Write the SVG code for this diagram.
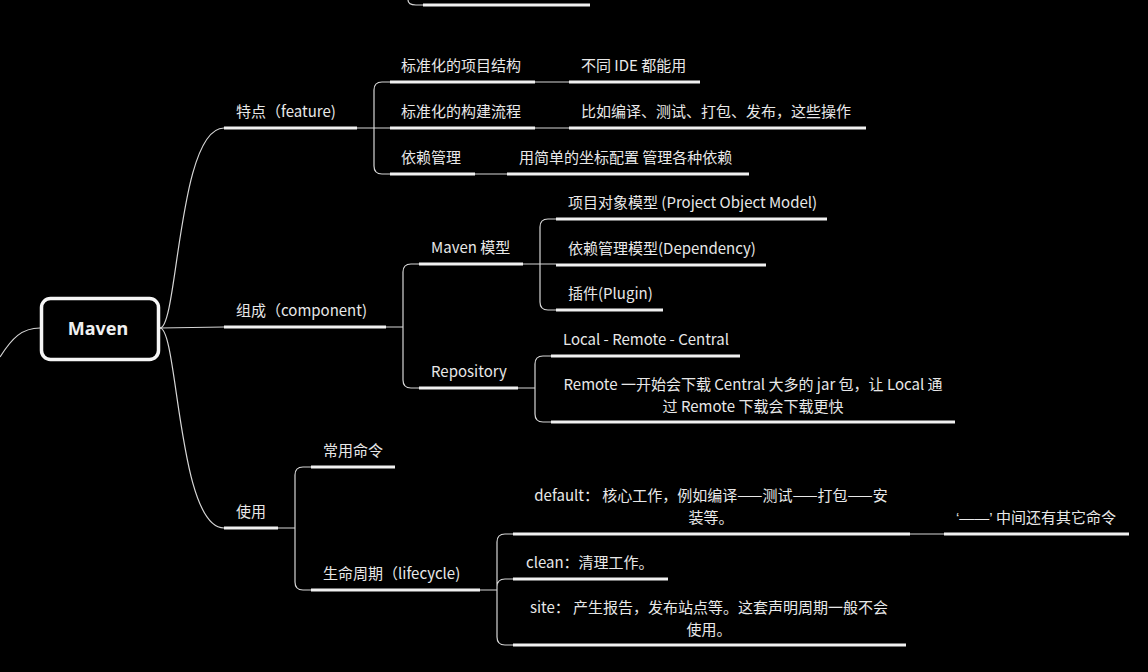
<svg xmlns="http://www.w3.org/2000/svg" width="1148" height="672" viewBox="0 0 1148 672">
<style>
.c{fill:none;stroke:#d6d6d6;stroke-width:1.2}
.u{stroke:#f0f0f0;stroke-width:3}
.t{font-family:"Noto Sans CJK SC","Noto Sans",sans-serif;font-size:15px;fill:#e8e8e8}
.m{text-anchor:middle}
</style>
<rect width="1148" height="672" fill="#000"/>
<g id="connectors">
<path class="c" d="M408,0 Q408,5 416,5 L423,5"/>
<path class="c" d="M0,357 C12,338 22,328 40,328"/>
<path class="c" d="M160,328 C178,328 178,128 224,128"/>
<path class="c" d="M160,328 L224,327"/>
<path class="c" d="M160,328 C178,328 178,528 224,528"/>
<path class="c" d="M357,128 L390,128 M390,82 L382,82 Q374,82 374,90 L374,166 Q374,174 382,174 L390,174"/>
<path class="c" d="M535,82 L569,82 M535,128 L569,128 M475,174 L507,174"/>
<path class="c" d="M386,327 L403,327 M419,264 L411,264 Q403,264 403,272 L403,380 Q403,388 411,388 L419,388"/>
<path class="c" d="M523,264 L556,264 M556,219 L548,219 Q540,219 540,227 L540,302 Q540,310 548,310 L556,310"/>
<path class="c" d="M518,388 L535,388 M551,356 L543,356 Q535,356 535,364 L535,414 Q535,422 543,422 L551,422"/>
<path class="c" d="M278,528 L295,528 M311,467 L303,467 Q295,467 295,475 L295,582 Q295,590 303,590 L311,590"/>
<path class="c" d="M480,590 L497,590 M513,534 L505,534 Q497,534 497,542 L497,637 Q497,645 505,645 L513,645 M497,590 L497,587 Q497,579 505,579 L513,579"/>
<path class="c" d="M910,534 L944,534"/>
</g>
<g id="top-fragment"><line class="u" x1="423" y1="5" x2="590" y2="5"/></g>
<g id="maven">
<rect x="41.5" y="298.5" width="117" height="61" rx="9" fill="#000" stroke="#f5f5f5" stroke-width="3.5"/>
<text x="98" y="335" text-anchor="middle" style="font-family:'Noto Sans',sans-serif;font-size:18px;font-weight:bold;fill:#f0f0f0">Maven</text>
</g>
<g id="feature"><line class="u" x1="224" y1="128" x2="357" y2="128"/><text class="t" x="236" y="117">特点（feature)</text></g>
<g id="f1"><line class="u" x1="390" y1="82" x2="535" y2="82"/><text class="t" x="401" y="71">标准化的项目结构</text></g>
<g id="f1a"><line class="u" x1="569" y1="82" x2="700" y2="82"/><text class="t" x="581" y="71">不同 IDE 都能用</text></g>
<g id="f2"><line class="u" x1="390" y1="128" x2="535" y2="128"/><text class="t" x="401" y="117">标准化的构建流程</text></g>
<g id="f2a"><line class="u" x1="569" y1="128" x2="866" y2="128"/><text class="t" x="581" y="117">比如编译、测试、打包、发布，这些操作</text></g>
<g id="f3"><line class="u" x1="390" y1="174" x2="475" y2="174"/><text class="t" x="401" y="163">依赖管理</text></g>
<g id="f3a"><line class="u" x1="507" y1="174" x2="749" y2="174"/><text class="t" x="519" y="163">用简单的坐标配置 管理各种依赖</text></g>
<g id="component"><line class="u" x1="224" y1="327" x2="386" y2="327"/><text class="t" x="236" y="316">组成（component)</text></g>
<g id="model"><line class="u" x1="419" y1="264" x2="523" y2="264"/><text class="t" x="431" y="253">Maven 模型</text></g>
<g id="pom"><line class="u" x1="556" y1="219" x2="827" y2="219"/><text class="t" x="568" y="208">项目对象模型 (Project Object Model)</text></g>
<g id="dep"><line class="u" x1="556" y1="265" x2="766" y2="265"/><text class="t" x="568" y="254">依赖管理模型(Dependency)</text></g>
<g id="plugin"><line class="u" x1="556" y1="310" x2="663" y2="310"/><text class="t" x="568" y="299">插件(Plugin)</text></g>
<g id="repo"><line class="u" x1="419" y1="388" x2="518" y2="388"/><text class="t" x="431" y="377">Repository</text></g>
<g id="lrc"><line class="u" x1="551" y1="356" x2="740" y2="356"/><text class="t" x="563" y="345">Local - Remote - Central</text></g>
<g id="remote"><line class="u" x1="551" y1="422" x2="955" y2="422"/><text class="t m" x="753" y="390">Remote 一开始会下载 Central 大多的 jar 包，让 Local 通</text><text class="t m" x="753" y="412">过 Remote 下载会下载更快</text></g>
<g id="usage"><line class="u" x1="224" y1="528" x2="278" y2="528"/><text class="t" x="236" y="517">使用</text></g>
<g id="cmd"><line class="u" x1="311" y1="467" x2="395" y2="467"/><text class="t" x="323" y="456">常用命令</text></g>
<g id="lifecycle"><line class="u" x1="311" y1="590" x2="480" y2="590"/><text class="t" x="323" y="579">生命周期（lifecycle)</text></g>
<g id="default"><line class="u" x1="513" y1="534" x2="910" y2="534"/><text class="t m" x="711" y="501">default： 核心工作，例如编译——测试——打包——安</text><text class="t m" x="711" y="523">装等。</text></g>
<g id="note"><line class="u" x1="944" y1="534" x2="1129" y2="534"/><text class="t" x="956" y="523"><tspan style="font-family:'Liberation Sans',sans-serif">‘——’</tspan> 中间还有其它命令</text></g>
<g id="clean"><line class="u" x1="513" y1="579" x2="668" y2="579"/><text class="t" x="526" y="568">clean：清理工作。</text></g>
<g id="site"><line class="u" x1="513" y1="645" x2="906" y2="645"/><text class="t m" x="709" y="613">site： 产生报告，发布站点等。这套声明周期一般不会</text><text class="t m" x="709" y="635">使用。</text></g>
</svg>
